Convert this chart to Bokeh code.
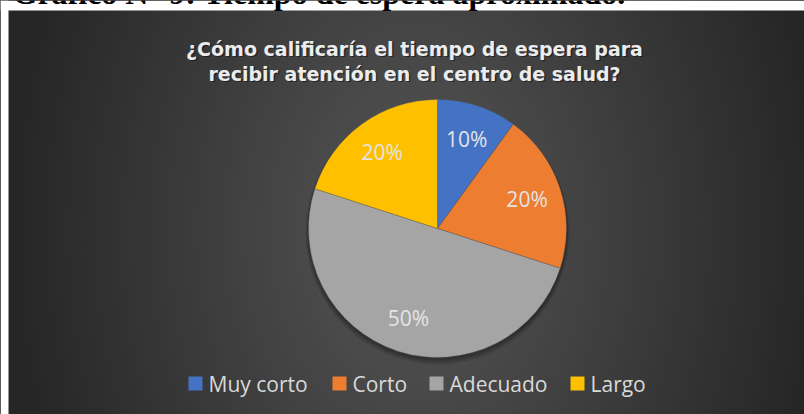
import numpy as np
from bokeh.plotting import figure
from bokeh.models import Range1d, ColumnDataSource, Label
from bokeh.embed import file_html
from bokeh.resources import INLINE
from bokeh.core.properties import value

# ---------------- data ----------------
categories = ["Muy corto", "Corto", "Adecuado", "Largo"]
percentages = [10, 20, 50, 20]
colors = ["#4472C4", "#ED7D31", "#A5A5A5", "#FFC000"]
title_lines = ["¿Cómo calificaría el tiempo de espera para",
               "recibir atención en el centro de salud?"]
caption = "Gráfico N° 9: Tiempo de espera aproximado."

# ---------------- layout (pixel units, page coordinates) ----------------
FW, FH = 804, 414
LEFT, TOP = 8, 10                    # white page strip around the chart


def dx(page_x):
    return page_x


def dy(page_y):
    return FH - page_y


CX, CY, R = dx(437), dy(228), 129    # pie centre / radius
LABEL_R = 0.73
legend_sq_x = [dx(v) for v in (195, 339, 436, 577)]
legend_y = dy(383)

p = figure(width=FW, height=FH, output_backend="svg", toolbar_location=None,
           x_range=Range1d(0, FW), y_range=Range1d(0, FH),
           x_axis_location=None, y_axis_location=None,
           min_border=0, min_border_top=0, min_border_left=0,
           min_border_right=0, min_border_bottom=0)
p.grid.visible = False
p.outline_line_color = None
p.border_fill_color = "#262626"
p.background_fill_color = "#262626"

# radial gradient background
gx, gy, grx, gry = dx(415), dy(230), 410, 580
n = 70
ds = np.linspace(1.15, 0.0, n, endpoint=False)
c_in, c_out = np.array([0x57, 0x57, 0x57]), np.array([0x26, 0x26, 0x26])
bg_cols = []
for d in ds:
    t = min(d, 1.0)
    c = (c_in + (c_out - c_in) * t).astype(int)
    bg_cols.append("#%02x%02x%02x" % tuple(c))
p.ellipse(x=[gx] * n, y=[gy] * n, width=list(2 * grx * ds), height=list(2 * gry * ds),
          fill_color=bg_cols, line_color=None)

# white page strips (left and top) outside the chart area
p.quad(left=[0, 0], right=[LEFT, FW], bottom=[0, dy(TOP)], top=[FH, FH],
       fill_color="white", line_color=None)

# pie shadow
for off, extra, a in [(4, 3, 0.10), (3, 2, 0.12), (2, 1, 0.15)]:
    p.circle(x=[CX], y=[CY - off], radius=R + extra, fill_color="black",
             fill_alpha=a, line_color=None)

# pie wedges
frac = np.array(percentages) / sum(percentages)
cum = np.concatenate([[0], np.cumsum(frac)])
start = np.pi / 2 - 2 * np.pi * cum[:-1]
end = np.pi / 2 - 2 * np.pi * cum[1:]
mid = (start + end) / 2
src = ColumnDataSource(dict(cat=categories, pct=percentages, color=colors,
                            start=start, end=end,
                            lx=CX + LABEL_R * R * np.cos(mid),
                            ly=CY + LABEL_R * R * np.sin(mid),
                            lab=[f"{v}%" for v in percentages]))
p.wedge(x=CX, y=CY, radius=R, start_angle="start", end_angle="end",
        direction="clock", fill_color="color", line_color="#555555",
        line_width=0.6, line_alpha=0.6, source=src)
p.text(x="lx", y="ly", text="lab", source=src, text_align="center",
       text_baseline="middle", text_color="#e4e4e4",
       text_font=value("Open Sans"), text_font_size="21px")

# title (with soft shadow)
ty = [dy(48), dy(73)]
tx = [dx(414), dx(414)]
p.text(x=[x + 1.5 for x in tx], y=[y - 1.5 for y in ty], text=title_lines,
       text_align="center", text_baseline="middle", text_color="black",
       text_alpha=0.45, text_font=value("DejaVu Sans"), text_font_style="bold",
       text_font_size="19px")
p.text(x=tx, y=ty, text=title_lines, text_align="center",
       text_baseline="middle", text_color="#ececec",
       text_font=value("DejaVu Sans"), text_font_style="bold",
       text_font_size="19px")

# legend
lsrc = ColumnDataSource(dict(x=legend_sq_x, tx=[x + 13 for x in legend_sq_x],
                             y=[legend_y] * 4, cat=categories, color=colors))
p.rect(x="x", y="y", width=14, height=14, fill_color="color", line_color=None,
       source=lsrc)
p.text(x="tx", y="y", text="cat", source=lsrc, text_align="left",
       text_baseline="middle", text_color="#d9d9d9",
       text_font=value("Open Sans"), text_font_size="21px")

# document caption, cut off at the top of the page
p.add_layout(Label(x=dx(12), y=dy(-7.5), text=caption, text_align="left",
                   text_baseline="middle", text_color="black",
                   text_font="Liberation Serif", text_font_style="bold",
                   text_font_size="32px"))

open("out.html", "w").write(file_html(p, INLINE))
